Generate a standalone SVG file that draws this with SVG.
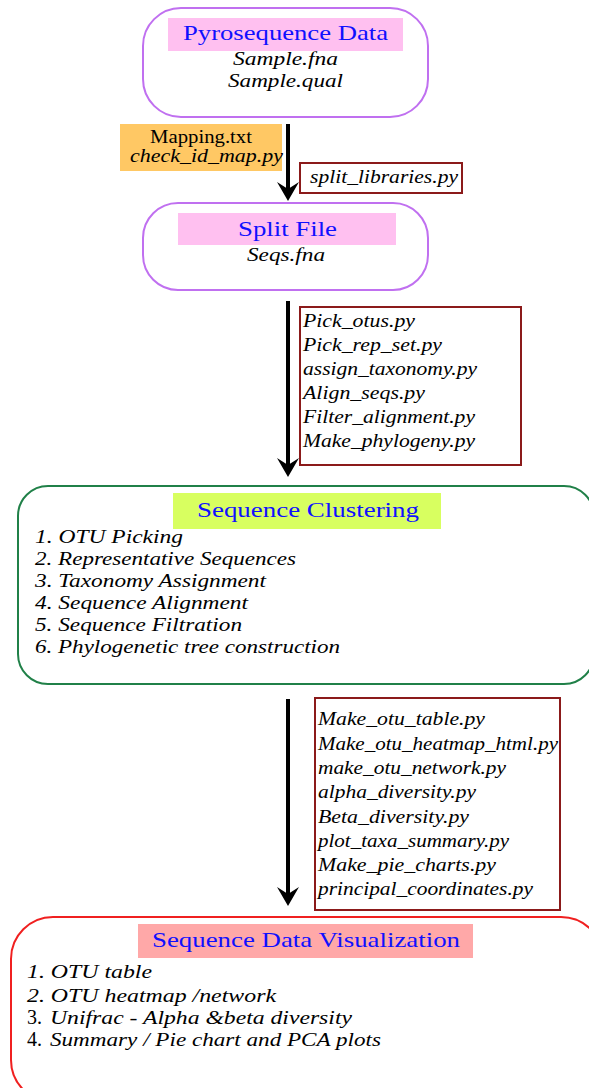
<svg xmlns="http://www.w3.org/2000/svg" width="589" height="1088" viewBox="0 0 589 1088">
<style>
.t{font-family:"Liberation Serif","Times New Roman",serif;fill:#000}
.i{font-style:italic;font-size:18px}
.h{font-size:22px;fill:#1010ff}
.pv{fill:#fff;stroke:#c070f0;stroke-width:2}
.sb{fill:#fff;stroke:#8b1a1a;stroke-width:2}
.cn{stroke:#000;stroke-width:4;fill:none}
.ah{fill:#000}
</style>
<rect width="589" height="1088" fill="#fff"/>
<g id="connectors">
<line class="cn" x1="288" y1="124" x2="288" y2="190"/>
<polygon class="ah" points="277,182 288,189 299,182 288,201"/>
<line class="cn" x1="288" y1="301" x2="288" y2="466"/>
<polygon class="ah" points="277,458 288,465 299,458 288,477"/>
<line class="cn" x1="288" y1="699" x2="288" y2="895"/>
<polygon class="ah" points="277,887 288,894 299,887 288,906"/>
</g>
<g id="pyro">
<rect class="pv" x="143" y="8" width="285" height="109" rx="38"/>
<rect x="168" y="18" width="235" height="33" fill="#ffc0f0"/>
<text class="t h" x="183" y="40" textLength="205" lengthAdjust="spacingAndGlyphs">Pyrosequence Data</text>
<text class="t i" x="233" y="65" textLength="105" lengthAdjust="spacingAndGlyphs">Sample.fna</text>
<text class="t i" x="228" y="87" textLength="115" lengthAdjust="spacingAndGlyphs">Sample.qual</text>
</g>
<g id="mapping">
<rect x="120" y="124" width="162" height="47" fill="#ffc864"/>
<text class="t" x="150" y="143" font-size="18" textLength="102" lengthAdjust="spacingAndGlyphs">Mapping.txt</text>
<text class="t i" x="130" y="162" textLength="153" lengthAdjust="spacingAndGlyphs">check_id_map.py</text>
</g>
<g id="split-libraries">
<rect class="sb" x="300" y="163" width="162" height="30"/>
<text class="t i" x="310" y="183" textLength="148" lengthAdjust="spacingAndGlyphs">split_libraries.py</text>
</g>
<g id="split-file">
<rect class="pv" x="143" y="203" width="285" height="87" rx="35"/>
<rect x="178" y="213" width="218" height="32" fill="#ffc0f0"/>
<text class="t h" x="238" y="236" textLength="99" lengthAdjust="spacingAndGlyphs">Split File</text>
<text class="t i" x="247" y="261" textLength="78" lengthAdjust="spacingAndGlyphs">Seqs.fna</text>
</g>
<g id="scripts-1">
<rect class="sb" x="300" y="307" width="221" height="158"/>
<text class="t i" x="303" y="327" textLength="112" lengthAdjust="spacingAndGlyphs">Pick_otus.py</text>
<text class="t i" x="303" y="351" textLength="139" lengthAdjust="spacingAndGlyphs">Pick_rep_set.py</text>
<text class="t i" x="303" y="375" textLength="174" lengthAdjust="spacingAndGlyphs">assign_taxonomy.py</text>
<text class="t i" x="303" y="399" textLength="122" lengthAdjust="spacingAndGlyphs">Align_seqs.py</text>
<text class="t i" x="303" y="423" textLength="172" lengthAdjust="spacingAndGlyphs">Filter_alignment.py</text>
<text class="t i" x="303" y="447" textLength="172" lengthAdjust="spacingAndGlyphs">Make_phylogeny.py</text>
</g>
<g id="clustering">
<rect x="18" y="486" width="576" height="198" rx="30" fill="#fff" stroke="#208048" stroke-width="2"/>
<rect x="173" y="493" width="268" height="36" fill="#d8ff60"/>
<text class="t h" x="197" y="517" textLength="222" lengthAdjust="spacingAndGlyphs">Sequence Clustering</text>
<text class="t i" x="35" y="543" textLength="148" lengthAdjust="spacingAndGlyphs">1. OTU Picking</text>
<text class="t i" x="35" y="565" textLength="261" lengthAdjust="spacingAndGlyphs">2. Representative Sequences</text>
<text class="t i" x="35" y="587" textLength="231" lengthAdjust="spacingAndGlyphs">3. Taxonomy Assignment</text>
<text class="t i" x="35" y="609" textLength="213" lengthAdjust="spacingAndGlyphs">4. Sequence Alignment</text>
<text class="t i" x="35" y="631" textLength="207" lengthAdjust="spacingAndGlyphs">5. Sequence Filtration</text>
<text class="t i" x="35" y="653" textLength="305" lengthAdjust="spacingAndGlyphs">6. Phylogenetic tree construction</text>
</g>
<g id="scripts-2">
<rect class="sb" x="315" y="698" width="245" height="212"/>
<text class="t i" x="318" y="725" textLength="167" lengthAdjust="spacingAndGlyphs">Make_otu_table.py</text>
<text class="t i" x="318" y="750" textLength="240" lengthAdjust="spacingAndGlyphs">Make_otu_heatmap_html.py</text>
<text class="t i" x="318" y="774" textLength="188" lengthAdjust="spacingAndGlyphs">make_otu_network.py</text>
<text class="t i" x="318" y="798" textLength="158" lengthAdjust="spacingAndGlyphs">alpha_diversity.py</text>
<text class="t i" x="318" y="823" textLength="151" lengthAdjust="spacingAndGlyphs">Beta_diversity.py</text>
<text class="t i" x="318" y="847" textLength="191" lengthAdjust="spacingAndGlyphs">plot_taxa_summary.py</text>
<text class="t i" x="318" y="871" textLength="178" lengthAdjust="spacingAndGlyphs">Make_pie_charts.py</text>
<text class="t i" x="318" y="895" textLength="215" lengthAdjust="spacingAndGlyphs">principal_coordinates.py</text>
</g>
<g id="visualization">
<rect x="11" y="917" width="592" height="185" rx="42" fill="#fff" stroke="#f02020" stroke-width="2"/>
<rect x="138" y="924" width="335" height="34" fill="#ffa8a8"/>
<text class="t h" x="152" y="947" textLength="308" lengthAdjust="spacingAndGlyphs">Sequence Data Visualization</text>
<text class="t i" x="27" y="978" textLength="125" lengthAdjust="spacingAndGlyphs">1. OTU table</text>
<text class="t i" x="27" y="1002" textLength="249" lengthAdjust="spacingAndGlyphs">2. OTU heatmap /network</text>
<text class="t" x="27" y="1024" font-size="20">3.</text>
<text class="t i" x="50" y="1024" textLength="302" lengthAdjust="spacingAndGlyphs">Unifrac - Alpha &amp;beta diversity</text>
<text class="t" x="27" y="1046" font-size="20">4.</text>
<text class="t i" x="50" y="1046" textLength="331" lengthAdjust="spacingAndGlyphs">Summary / Pie chart and PCA plots</text>
</g>
</svg>
